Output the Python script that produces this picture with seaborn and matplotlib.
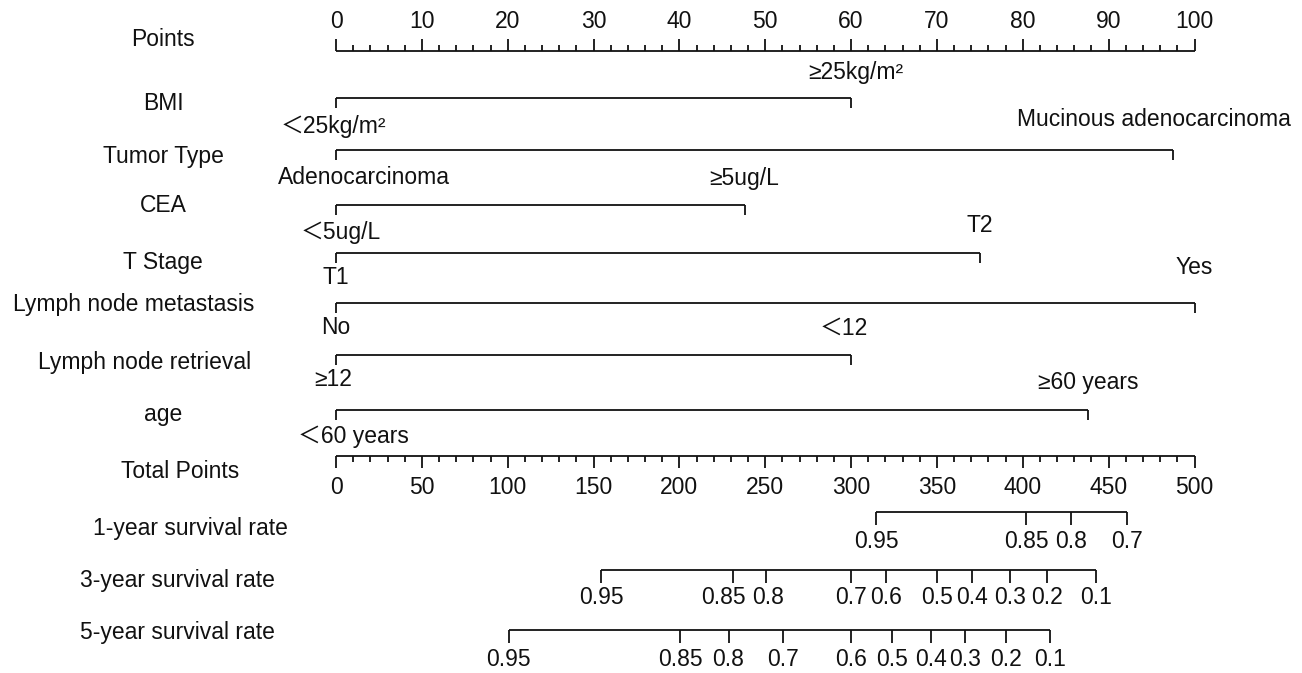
import matplotlib
matplotlib.use("Agg")
import matplotlib.pyplot as plt
import seaborn as sns

# --- data ---
points_ticks = list(range(0, 101, 10))
total_ticks = list(range(0, 501, 50))

bmi_levels = ["＜25kg/m²", "≥25kg/m²"]
bmi_points = [0, 60.0]
tumor_levels = ["Adenocarcinoma", "Mucinous adenocarcinoma"]
tumor_points = [0, 97.5]
cea_levels = ["＜5ug/L", "≥5ug/L"]
cea_points = [0, 47.6]
tstage_levels = ["T1", "T2"]
tstage_points = [0, 75.0]
lnm_levels = ["No", "Yes"]
lnm_points = [0, 100.0]
lnr_levels = ["≥12", "＜12"]
lnr_points = [0, 60.0]
age_levels = ["＜60 years", "≥60 years"]
age_points = [0, 87.6]

surv1_labels = ["0.95", "0.85", "0.8", "0.7"]
surv1_total = [314.5, 401.9, 427.9, 460.6]
surv3_labels = ["0.95", "0.85", "0.8", "0.7", "0.6", "0.5", "0.4", "0.3", "0.2", "0.1"]
surv3_total = [154.5, 231.4, 250.4, 299.9, 320.1, 349.8, 370.5, 392.7, 414.1, 442.6]
surv5_labels = ["0.95", "0.85", "0.8", "0.7", "0.6", "0.5", "0.4", "0.3", "0.2", "0.1"]
surv5_total = [100.6, 200.5, 228.6, 260.4, 299.9, 324.1, 346.5, 366.5, 390.1, 415.8]

# --- layout (pixel rows) ---
W, H = 1302, 673
X0, X100 = 336, 1194.5
PX = (X100 - X0) / 100.0

sns.set_theme(style="white")
plt.rcParams["font.family"] = ["Liberation Sans", "Noto Sans CJK SC", "DejaVu Sans"]
FS = 16.5
INK = "#111111"
LW = 1.3

fig = plt.figure(figsize=(W / 100, H / 100), dpi=100)
ax = fig.add_axes([0, 0, 1, 1])
ax.set_xlim(-X0 / PX, (W - X0) / PX)
ax.set_ylim(H, 0)
ax.axis("off")


def px(dx):
    return dx / PX


def row_label(text, xc, y):
    ax.text(px(xc - X0), y, text, ha="center", va="center", fontsize=FS, color=INK)


# Points scale
ax.hlines(51, 0, 100, color=INK, lw=LW)
for v in range(0, 101, 2):
    ln = 12 if v % 10 == 0 else 6
    ax.vlines(v, 51 - ln, 51, color=INK, lw=LW)
for v in points_ticks:
    ax.text(v, 22, str(v), ha="center", va="center", fontsize=FS, color=INK)
row_label("Points", 163, 40)

# variable rows: (name, levels, points, label x, label y, line y, upper y, lower y, upper dx, lower dx)
rows = [
    ("BMI", bmi_levels, bmi_points, 163, 104, 98, 73, 127, 5, -3),
    ("Tumor Type", tumor_levels, tumor_points, 163, 157, 150, 119, 177, -19, 28),
    ("CEA", cea_levels, cea_points, 163, 206, 205, 178, 233, 0, 5),
    ("T Stage", tstage_levels, tstage_points, 163, 262, 253, 226, 277, 0, 0),
    ("Lymph node metastasis", lnm_levels, lnm_points, 134, 304, 303, 268, 327, 0, 0),
    ("Lymph node retrieval", lnr_levels, lnr_points, 145, 363, 355, 328, 380, -7, -3),
    ("age", age_levels, age_points, 163, 415, 410, 382, 437, 0, 17),
]
for name, levels, pts, lx, ly, y, yu, yl, dxu, dxl in rows:
    row_label(name, lx, ly)
    ax.hlines(y, min(pts), max(pts), color=INK, lw=LW)
    ax.vlines(pts, y, y + 10, color=INK, lw=LW)
    ax.text(pts[0] + px(dxl), yl, levels[0], ha="center", va="center", fontsize=FS, color=INK)
    ax.text(pts[1] + px(dxu), yu, levels[1], ha="center", va="center", fontsize=FS, color=INK)

# Total points scale (0-500 mapped onto 0-100)
ax.hlines(456, 0, 100, color=INK, lw=LW)
for v in range(0, 501, 10):
    ln = 12 if v % 50 == 0 else 6
    ax.vlines(v / 5, 456, 456 + ln, color=INK, lw=LW)
for v in total_ticks:
    ax.text(v / 5, 487, str(v), ha="center", va="center", fontsize=FS, color=INK)
row_label("Total Points", 180, 471)

# survival scales; small label nudges where neighbours would collide
surv = [
    ("1-year survival rate", surv1_labels, surv1_total, 190, 529, 512, 541, {}),
    ("3-year survival rate", surv3_labels, surv3_total, 177, 580, 570, 597, {1: -10, 2: 2}),
    ("5-year survival rate", surv5_labels, surv5_total, 177, 633, 630, 659, {}),
]
for name, labs, tot, lx, ly, y, yt, nudge in surv:
    row_label(name, lx, ly)
    xs = [t / 5 for t in tot]
    ax.hlines(y, min(xs), max(xs), color=INK, lw=LW)
    ax.vlines(xs, y, y + 13, color=INK, lw=LW)
    for i, (x, lab) in enumerate(zip(xs, labs)):
        ax.text(x + px(nudge.get(i, 0)), yt, lab, ha="center", va="center", fontsize=FS, color=INK)

fig.savefig("out.png", dpi=100, facecolor="white")
plt.close(fig)
